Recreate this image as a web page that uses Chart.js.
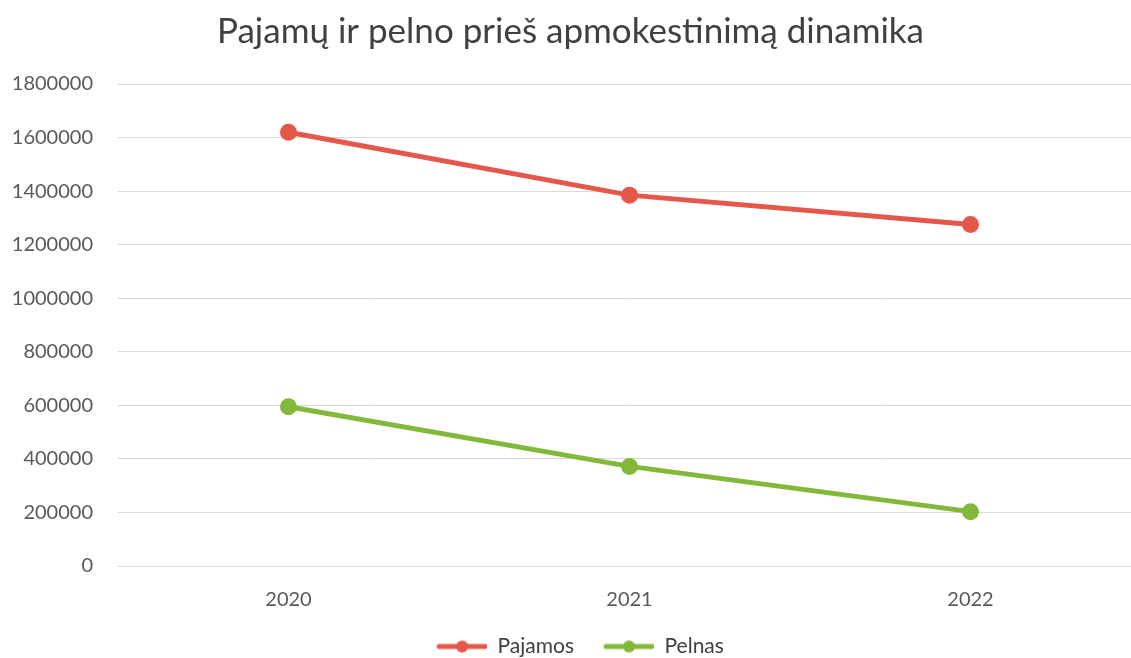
<!DOCTYPE html>
<html>
<head>
<meta charset="utf-8">
<script src="https://cdn.jsdelivr.net/npm/chart.js@4/dist/chart.umd.min.js"></script>
<style>
	html, body { margin: 0; padding: 0; background: #fff; overflow: hidden; }
	#wrap { width: 1160px; height: 658px; }
</style>
</head>
<body>
<div id="wrap"><canvas id="lineChart"></canvas></div>
<script>
const years = ['2020', '2021', '2022'];
const pajamos = [1620000, 1385000, 1275000];
const pelnas = [595000, 372000, 203000];
const yTicks = [0, 200000, 400000, 600000, 800000, 1000000, 1200000, 1400000, 1600000, 1800000];

const FONT = 'Lato, "Open Sans", sans-serif';
const RED = '#E5574A';
const GREEN = '#83B93A';

// line-with-dot marker for the legend (left part left empty as gap between items)
const legendMarker = (color) => {
	const c = document.createElement('canvas');
	c.width = 70;
	c.height = 14;
	const ctx = c.getContext('2d');
	ctx.strokeStyle = color;
	ctx.lineWidth = 5;
	ctx.lineCap = 'round';
	ctx.beginPath();
	ctx.moveTo(22, 7);
	ctx.lineTo(68, 7);
	ctx.stroke();
	ctx.fillStyle = color;
	ctx.beginPath();
	ctx.arc(45, 7, 6, 0, Math.PI * 2);
	ctx.fill();
	return c;
};

const canvas = document.querySelector('#lineChart');
new Chart(canvas, {
	type: 'line',
	data: {
		labels: years,
		datasets: [
			{
				label: 'Pajamos',
				data: pajamos,
				borderColor: RED,
				backgroundColor: RED,
				borderWidth: 5,
				pointRadius: 6,
				pointHoverRadius: 6,
			},
			{
				label: 'Pelnas',
				data: pelnas,
				borderColor: GREEN,
				backgroundColor: GREEN,
				borderWidth: 5,
				pointRadius: 6,
				pointHoverRadius: 6,
			},
		],
	},
	options: {
		responsive: true,
		maintainAspectRatio: false,
		animation: false,
		layout: { padding: { top: 8, right: 19, bottom: -9, left: 0 } },
		plugins: {
			title: {
				display: true,
				text: 'Pajamų ir pelno prieš apmokestinimą dinamika',
				color: '#404040',
				font: { family: FONT, size: 35, weight: 'normal' },
				padding: { top: 3, bottom: 31 },
			},
			legend: {
				position: 'bottom',
				labels: {
					color: '#404040',
					font: { family: FONT, size: 21 },
					usePointStyle: true,
					pointStyleWidth: 70,
					padding: 10,
					generateLabels: (chart) =>
						chart.data.datasets.map((ds, i) => ({
							text: ds.label,
							fontColor: '#404040',
							pointStyle: legendMarker(ds.borderColor),
							datasetIndex: i,
							hidden: false,
							lineWidth: 0,
						})),
				},
			},
			tooltip: { enabled: false },
		},
		scales: {
			x: {
				offset: true,
				grid: { display: false },
				border: { display: false },
				ticks: { color: '#595959', font: { family: FONT, size: 20 }, padding: 14 },
			},
			y: {
				min: 0,
				max: 1800000,
				afterFit: (scale) => { scale.width = 118; },
				afterBuildTicks: (scale) => { scale.ticks = yTicks.map((v) => ({ value: v })); },
				grid: { color: '#D9D9D9', lineWidth: 1, drawTicks: false },
				border: { display: false },
				ticks: {
					color: '#595959',
					font: { family: FONT, size: 20 },
					padding: 25,
					callback: (v) => String(v),
				},
			},
		},
	},
});
</script>
</body>
</html>
